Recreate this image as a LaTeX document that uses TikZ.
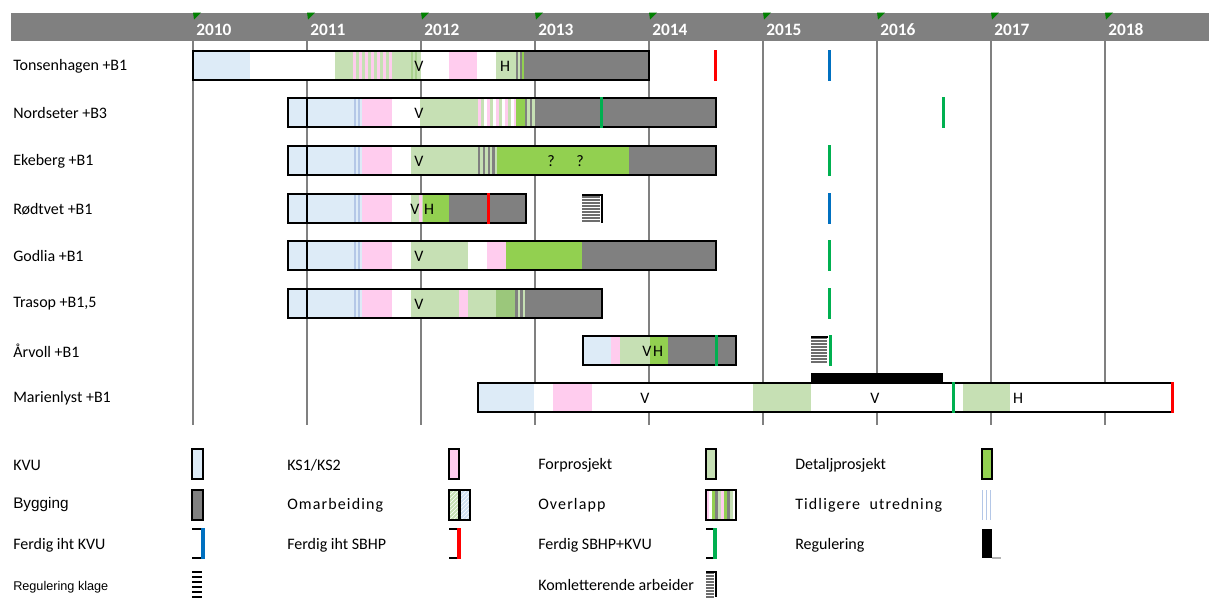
\documentclass[tikz,border=0pt]{standalone}
\usepackage{fontspec}
\setmainfont{Carlito}
\newfontfamily\arialfont{Liberation Sans}
\newfontfamily\spacedfont[LetterSpace=7]{Carlito}
\usetikzlibrary{patterns}

\definecolor{kvu}{HTML}{DDEBF7}
\definecolor{ks}{HTML}{FFCCEE}
\definecolor{fp}{HTML}{C6E0B4}
\definecolor{fpd}{HTML}{A9D08E}
\definecolor{fpm}{HTML}{9BC77B}
\definecolor{dp}{HTML}{92D050}
\definecolor{byg}{HTML}{808080}
\definecolor{tu}{HTML}{B4C7E7}
\definecolor{msred}{HTML}{FF0000}
\definecolor{msblue}{HTML}{0070C0}
\definecolor{msgreen}{HTML}{00B050}
\definecolor{tri}{HTML}{008000}

% x1, x2, top, colour
\newcommand\seg[4]{\fill[#4] (#1,#3) rectangle (#2,#3+29);}
% x1, top, width, colours
\newcommand\stripes[4]{\foreach \col [count=\i from 0] in {#4} {\fill[fill=\col] ({#1+\i*#3},#2) rectangle ++(#3,29);}}
% x, top, colour
\newcommand\milestone[3]{\fill[#3] (#1-1.5,#2-1) rectangle (#1+1.5,#2+30);}
% x1, x2, y1, n
\newcommand\hstripes[4]{\foreach \k in {1,...,#4} {\fill[byg!85!black] (#1,#3+3*\k-1.6) rectangle (#2,#3+3*\k);}}

\begin{document}
\begin{tikzpicture}[x=0.75pt,y=-0.75pt,
    bar/.style={draw=black,line width=2pt},
    grid/.style={draw=byg,line width=1.3pt},
    lbl/.style={anchor=west,inner sep=0pt,font=\fontsize{12}{14}\selectfont},
    txt/.style={inner sep=0pt,font=\fontsize{12}{14}\selectfont},
    year/.style={anchor=west,inner sep=0pt,text=white,font=\fontsize{13}{15}\selectfont\bfseries},
    cell/.style={draw=black,line width=2pt},
    bracket/.style={draw=black,line width=1.5pt}]
\useasboundingbox (0,0) rectangle (1209,597);

% header and year lines
\fill[byg] (11,12.5) rectangle (1209,41);
\foreach \yr [count=\i from 0] in {2010,...,2018} {
    \draw[grid] ({193+114*\i},41) -- ({193+114*\i},425);
    \fill[tri] ({193+114*\i},12.5) -- ({201+114*\i},12.5) -- ({194+114*\i},19.5) -- cycle;
    \node[year] (y\yr) at ({196+114*\i},30) {\yr};
}

% Tonsenhagen
\node[lbl] (tons) at (13,66) {Tonsenhagen +B1};
\seg{193}{649}{51}{white}
\seg{193}{250}{51}{kvu}
\seg{335}{421}{51}{fp}
\stripes{353}{51}{3}{ks,fp,ks,fp,ks,fp,ks,fp,ks,fp,ks,fp,ks}
\stripes{411}{51}{2}{fpd,fp,fpd}
\seg{449}{477}{51}{ks}
\seg{496}{516}{51}{fp}
\stripes{516}{51}{2}{byg,fp,byg,dp,byg}
\seg{525}{649}{51}{byg}
\draw[bar] (193,51) rectangle (649,80);
\node[txt] (tonsv) at (419,66) {V};
\node[txt] (tonsh) at (505,66) {H};
\milestone{715}{51}{msred}
\milestone{829}{51}{msblue}

% Nordseter
\node[lbl] (nord) at (13,113) {Nordseter +B3};
\seg{288}{716}{98}{white}
\seg{288}{354}{98}{kvu}
\stripes{354}{98}{2}{tu,kvu,tu,kvu}
\seg{362}{392}{98}{ks}
\seg{420}{478}{98}{fp}
\stripes{478}{98}{3}{ks,fp,white,ks,fp,white,ks,fp,white,ks,fp,white,ks}
\seg{516}{525}{98}{dp}
\stripes{525}{98}{2.4}{byg,fp,byg,fp,byg}
\seg{537}{716}{98}{byg}
\draw[line width=1.5pt] (307,98) -- (307,127);
\draw[bar] (288,98) rectangle (716,127);
\node[txt] (nordv) at (419,113) {V};
\milestone{601}{98}{msgreen}
\milestone{943}{98}{msgreen}

% Ekeberg
\node[lbl] (eke) at (13,161) {Ekeberg +B1};
\seg{288}{716}{146}{white}
\seg{288}{354}{146}{kvu}
\stripes{354}{146}{2}{tu,kvu,tu,kvu}
\seg{362}{392}{146}{ks}
\seg{411}{478}{146}{fp}
\stripes{478}{146}{2.4}{byg,fp,byg,fp,byg,fp,byg,fp}
\seg{497}{629}{146}{dp}
\seg{629}{716}{146}{byg}
\draw[line width=1.5pt] (307,146) -- (307,175);
\draw[bar] (288,146) rectangle (716,175);
\node[txt] (ekev) at (419,161) {V};
\node[txt] (ekeq1) at (551,161) {?};
\node[txt] (ekeq2) at (580,161) {?};
\milestone{829}{146}{msgreen}

% Rødtvet
\node[lbl] (rod) at (13,209) {Rødtvet +B1};
\seg{288}{526}{194}{white}
\seg{288}{354}{194}{kvu}
\stripes{354}{194}{2}{tu,kvu,tu,kvu}
\seg{362}{392}{194}{ks}
\seg{411}{423}{194}{fp}
\seg{418.5}{421.5}{194}{ks}
\seg{423}{449}{194}{dp}
\seg{449}{526}{194}{byg}
\draw[line width=1.5pt] (307,194) -- (307,223);
\draw[bar] (288,194) rectangle (526,223);
\node[txt] (rodv) at (415,209) {V};
\node[txt] (rodh) at (429,209) {H};
\milestone{488}{194}{msred}
\hstripes{582}{600}{195}{9}
\draw[bracket] (582,194.5) -- (601.5,194.5) -- (601.5,223);
\milestone{829}{194}{msblue}

% Godlia
\node[lbl] (god) at (13,256) {Godlia +B1};
\seg{288}{716}{241}{white}
\seg{288}{354}{241}{kvu}
\stripes{354}{241}{2}{tu,kvu,tu,kvu}
\seg{362}{392}{241}{ks}
\seg{411}{468}{241}{fp}
\seg{487}{506}{241}{ks}
\seg{506}{582}{241}{dp}
\seg{582}{716}{241}{byg}
\draw[line width=1.5pt] (307,241) -- (307,270);
\draw[bar] (288,241) rectangle (716,270);
\node[txt] (godv) at (419,256) {V};
\milestone{829}{241}{msgreen}

% Trasop
\node[lbl] (tras) at (13,304) {Trasop +B1,5};
\seg{288}{602}{289}{white}
\seg{288}{354}{289}{kvu}
\stripes{354}{289}{2}{tu,kvu,tu,kvu}
\seg{362}{392}{289}{ks}
\seg{411}{459}{289}{fp}
\seg{459}{468}{289}{ks}
\seg{468}{496}{289}{fp}
\seg{496}{515}{289}{fpm}
\stripes{515}{289}{2.5}{byg,fp,byg,fp}
\seg{525}{602}{289}{byg}
\draw[line width=1.5pt] (307,289) -- (307,318);
\draw[bar] (288,289) rectangle (602,318);
\node[txt] (trasv) at (419,304) {V};
\milestone{829}{289}{msgreen}

% Årvoll
\node[lbl] (arv) at (13,351) {Årvoll +B1};
\seg{583}{736}{336}{white}
\seg{583}{611}{336}{kvu}
\seg{611}{620}{336}{ks}
\seg{620}{650}{336}{fp}
\seg{650}{668}{336}{dp}
\seg{668}{736}{336}{byg}
\draw[bar] (583,336) rectangle (736,365);
\node[txt] (arvv) at (647,351) {V};
\node[txt] (arvh) at (658,351) {H};
\milestone{716}{336}{msgreen}
\hstripes{811}{827}{336}{9}
\draw[bracket] (811,336.5) -- (828,336.5);
\milestone{830}{336}{msgreen}
\fill[black] (811,373) rectangle (943,383);

% Marienlyst
\node[lbl] (mar) at (13,398) {Marienlyst +B1};
\seg{478}{1173}{383}{white}
\seg{478}{534}{383}{kvu}
\seg{553}{592}{383}{ks}
\seg{753}{811}{383}{fp}
\seg{963}{1010}{383}{fp}
\draw[bar] (478,383) rectangle (1173,412);
\node[txt] (marv1) at (645,398) {V};
\node[txt] (marv2) at (875,398) {V};
\node[txt] (marh) at (1018,398) {H};
\milestone{953}{383}{msgreen}
\milestone{1172}{383}{msred}

% legend
\node[lbl] (lkvu) at (13,465) {KVU};
\draw[cell,fill=kvu] (192,449) rectangle (203,479);
\node[lbl,font=\arialfont\fontsize{11.5}{13}\selectfont] (lbyg) at (13,505) {Bygging};
\draw[cell,fill=byg] (192,490) rectangle (203,520);
\node[lbl] (lfkvu) at (13,545) {Ferdig iht KVU};
\draw[bracket] (192,529) -- (203,529) (192,558) -- (203,558);
\fill[msblue] (201,528) rectangle (204.5,559);
\node[lbl,font=\arialfont\fontsize{9.5}{11}\selectfont] (lklage) at (13,587) {Regulering klage};
\foreach \k in {0,...,5} {\draw[line width=1.4pt] (192,{572+5*\k}) -- (202,{572+5*\k});}

\node[lbl] (lks) at (287,465) {KS1/KS2};
\draw[cell,fill=ks] (449,449) rectangle (459,479);
\node[lbl,font=\spacedfont\fontsize{12}{14}\selectfont] (lomarb) at (287,505) {Omarbeiding};
\fill[fp] (449,490) rectangle (459.5,520);
\fill[kvu!70!tu] (459.5,490) rectangle (470,520);
\fill[pattern=north east lines,pattern color=white] (449,490) rectangle (470,520);
\draw[cell] (449,490) rectangle (470,520) (459.5,490) -- (459.5,520);
\node[lbl] (lfsbhp) at (287,545) {Ferdig iht SBHP};
\draw[bracket] (449,529) -- (459,529) (449,558) -- (459,558);
\fill[msred] (457,528) rectangle (460.5,559);

\node[lbl] (lfp) at (538,465) {Forprosjekt};
\draw[cell,fill=fp] (706,449) rectangle (716,479);
\node[lbl,font=\spacedfont\fontsize{12}{14}\selectfont] (lover) at (538,505) {Overlapp};
\foreach \col [count=\i from 0] in {ks,white,dp,byg,fp,ks,dp,byg,fp,white} {\fill[fill=\col] ({706+3*\i},490) rectangle ++(3,30);}
\draw[cell] (706,490) rectangle (736,520);
\node[lbl] (lfsk) at (538,545) {Ferdig SBHP+KVU};
\draw[bracket] (706,529) -- (715,529) (706,558) -- (715,558);
\fill[msgreen] (713,528) rectangle (716.5,559);
\node[lbl] (lkompl) at (538,585) {Komletterende arbeider};
\hstripes{706}{714}{571}{9}
\draw[bracket] (706,571.5) -- (715.5,571.5) -- (715.5,597);

\node[lbl] (ldp) at (795,465) {Detaljprosjekt};
\draw[cell,fill=dp] (982,449) rectangle (992,479);
\node[lbl,font=\spacedfont\fontsize{12}{14}\selectfont] (ltidl) at (795,505) {Tidligere\ \ utredning};
\foreach \xx in {982.5,986.5,990.5} {\draw[tu,line width=0.8pt] (\xx,490) -- (\xx,520);}
\node[lbl] (lreg) at (795,545) {Regulering};
\fill[black] (982,529) rectangle (992,558);
\draw[byg!60,line width=1pt] (992,558) -- (1001,558);
\end{tikzpicture}
\end{document}
